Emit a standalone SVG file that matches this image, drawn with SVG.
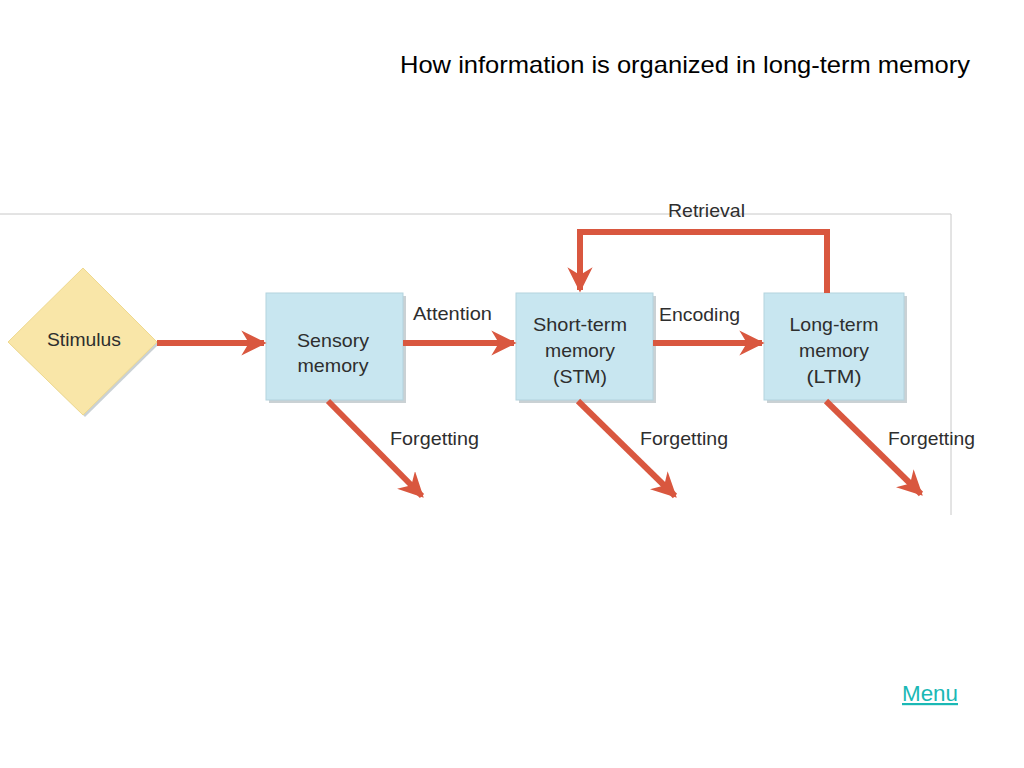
<svg xmlns="http://www.w3.org/2000/svg" width="1024" height="768" viewBox="0 0 1024 768">
<style>
.lbl{font-family:"Liberation Sans",Arial,sans-serif;font-size:19px;fill:#2e2e2e;}
.box{fill:#c8e6f0;stroke:#b3d3de;stroke-width:1;}
.shadow{fill:#8a9aa0;opacity:0.45;}
.arr{stroke:#d9573f;stroke-width:6;fill:none;}
.head{fill:#d9573f;}
</style>
<defs>
<marker id="ah" viewBox="0 0 10 10" refX="9" refY="5" markerWidth="4.2" markerHeight="4.2" orient="auto" markerUnits="strokeWidth">
<path d="M0,0 L10,5 L0,10 L3,5 Z" class="head"/>
</marker>
</defs>
<rect width="1024" height="768" fill="#fff"/>
<text x="400" y="73" textLength="570" lengthAdjust="spacingAndGlyphs" style="font-family:'Liberation Sans',Arial,sans-serif;font-size:24px;fill:#000">How information is organized in long-term memory</text>
<polyline points="0,214 951,214 951,515" fill="none" stroke="#c8c8c8" stroke-width="1"/>

<g id="stimulus">
<polygon points="85,270 159,344 85,417 10,344" class="shadow"/>
<polygon points="83,268 157,342 83,415 8,342" fill="#f9e6a8" stroke="#efd98f" stroke-width="1"/>
<text class="lbl" x="84" y="346" text-anchor="middle" textLength="74" lengthAdjust="spacingAndGlyphs">Stimulus</text>
</g>

<g id="sensory">
<rect x="269" y="296" width="137" height="107" class="shadow"/>
<rect x="266" y="293" width="137" height="107" class="box"/>
<text class="lbl" x="333" y="347" text-anchor="middle" textLength="72" lengthAdjust="spacingAndGlyphs">Sensory</text>
<text class="lbl" x="333" y="372" text-anchor="middle" textLength="71" lengthAdjust="spacingAndGlyphs">memory</text>
</g>

<g id="stm">
<rect x="519" y="296" width="137" height="107" class="shadow"/>
<rect x="516" y="293" width="137" height="107" class="box"/>
<text class="lbl" x="580" y="331" text-anchor="middle" textLength="94" lengthAdjust="spacingAndGlyphs">Short-term</text>
<text class="lbl" x="580" y="357" text-anchor="middle" textLength="70" lengthAdjust="spacingAndGlyphs">memory</text>
<text class="lbl" x="580" y="383" text-anchor="middle" textLength="54" lengthAdjust="spacingAndGlyphs">(STM)</text>
</g>

<g id="ltm">
<rect x="767" y="296" width="140" height="107" class="shadow"/>
<rect x="764" y="293" width="140" height="107" class="box"/>
<text class="lbl" x="834" y="331" text-anchor="middle" textLength="89" lengthAdjust="spacingAndGlyphs">Long-term</text>
<text class="lbl" x="834" y="357" text-anchor="middle" textLength="70" lengthAdjust="spacingAndGlyphs">memory</text>
<text class="lbl" x="834" y="383" text-anchor="middle" textLength="55" lengthAdjust="spacingAndGlyphs">(LTM)</text>
</g>

<g id="connectors">
<line x1="157" y1="343" x2="264" y2="343" class="arr" marker-end="url(#ah)"/>
<line x1="403" y1="343" x2="514" y2="343" class="arr" marker-end="url(#ah)"/>
<line x1="653" y1="343" x2="762" y2="343" class="arr" marker-end="url(#ah)"/>
<polyline points="827,293 827,232 580,232 580,290" class="arr" marker-end="url(#ah)"/>
<line x1="328" y1="401" x2="422" y2="496" class="arr" marker-end="url(#ah)"/>
<line x1="578" y1="401" x2="675" y2="496" class="arr" marker-end="url(#ah)"/>
<line x1="826" y1="401" x2="921" y2="494" class="arr" marker-end="url(#ah)"/>
<text class="lbl" x="413" y="320" textLength="79" lengthAdjust="spacingAndGlyphs">Attention</text>
<text class="lbl" x="659" y="321" textLength="81" lengthAdjust="spacingAndGlyphs">Encoding</text>
<text class="lbl" x="668" y="217" textLength="77" lengthAdjust="spacingAndGlyphs">Retrieval</text>
<text class="lbl" x="390" y="445" textLength="89" lengthAdjust="spacingAndGlyphs">Forgetting</text>
<text class="lbl" x="640" y="445" textLength="88" lengthAdjust="spacingAndGlyphs">Forgetting</text>
<text class="lbl" x="888" y="445" textLength="87" lengthAdjust="spacingAndGlyphs">Forgetting</text>
</g>

<text x="902" y="701" textLength="56" lengthAdjust="spacingAndGlyphs" style="font-family:'Liberation Sans',Arial,sans-serif;font-size:22px;fill:#1ab8b5;text-decoration:underline">Menu</text>
</svg>
